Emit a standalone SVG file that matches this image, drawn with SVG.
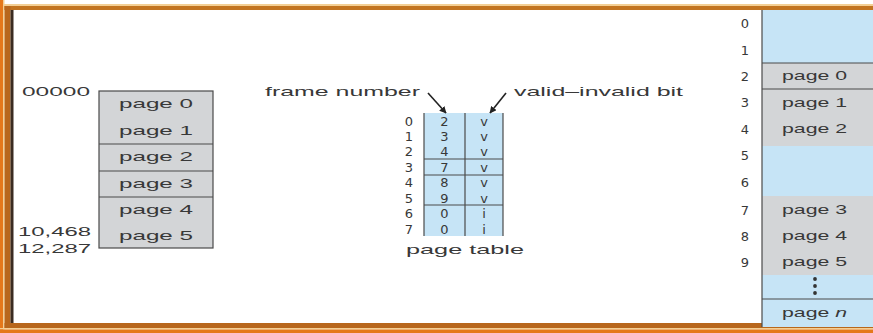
<svg xmlns="http://www.w3.org/2000/svg" width="873" height="333" viewBox="0 0 873 333">
<style>
text{font-family:"Liberation Sans",Arial,sans-serif;fill:#383838;}
.lbl{font-size:13px;text-anchor:middle;}
.num text{font-family:"DejaVu Sans",sans-serif;font-size:13px;text-anchor:middle;}
.addr{font-size:13px;}
.gray{fill:#d3d5d7;}
.blue{fill:#c6e4f6;}
.ln{stroke:#4a4a4a;stroke-width:1.2;fill:none;}
.arr{stroke:#222;stroke-width:1.6;fill:none;marker-end:url(#ah);}
</style>
<defs>
<marker id="ah" viewBox="0 0 10 10" refX="9" refY="5" markerWidth="7" markerHeight="7" orient="auto" markerUnits="userSpaceOnUse">
<path d="M0,0 L10,5 L0,10 z" fill="#222"/>
</marker>
</defs>
<rect x="0" y="0" width="873" height="333" fill="#fff"/>
<g id="frame">
<rect x="0" y="4" width="873" height="2" fill="#f3cf94"/>
<rect x="0" y="6" width="873" height="4" fill="#c27420"/>
<rect x="0" y="0" width="3" height="333" fill="#e5781a"/>
<rect x="3" y="0" width="1.5" height="333" fill="#f3cf94"/>
<rect x="4.5" y="6" width="6" height="323" fill="#b8671c"/>
<rect x="10.5" y="10" width="3" height="314" fill="#3b2c22"/>
<rect x="4.5" y="323" width="869" height="5" fill="#b8671c"/>
<rect x="0" y="328" width="873" height="1.5" fill="#f3cf94"/>
<rect x="0" y="329.5" width="873" height="3.5" fill="#e5781a"/>
</g>
<g id="logical-memory">
<rect class="gray" x="99" y="91" width="114" height="157"/>
<rect class="ln" x="99" y="91" width="114" height="157"/>
<line class="ln" x1="99" y1="144" x2="213" y2="144"/>
<line class="ln" x1="99" y1="171" x2="213" y2="171"/>
<line class="ln" x1="99" y1="197" x2="213" y2="197"/>
<text class="lbl" x="156" y="108" textLength="74" lengthAdjust="spacingAndGlyphs">page 0</text>
<text class="lbl" x="156" y="135" textLength="74" lengthAdjust="spacingAndGlyphs">page 1</text>
<text class="lbl" x="156" y="161" textLength="74" lengthAdjust="spacingAndGlyphs">page 2</text>
<text class="lbl" x="156" y="188" textLength="74" lengthAdjust="spacingAndGlyphs">page 3</text>
<text class="lbl" x="156" y="214" textLength="74" lengthAdjust="spacingAndGlyphs">page 4</text>
<text class="lbl" x="156" y="240" textLength="74" lengthAdjust="spacingAndGlyphs">page 5</text>
<text class="addr" x="22" y="96" textLength="68" lengthAdjust="spacingAndGlyphs">00000</text>
<text class="addr" x="18" y="236" textLength="73" lengthAdjust="spacingAndGlyphs">10,468</text>
<text class="addr" x="18" y="253" textLength="73" lengthAdjust="spacingAndGlyphs">12,287</text>
</g>
<g id="page-table">
<rect class="blue" x="424" y="113" width="79" height="123"/>
<line class="ln" x1="424" y1="113" x2="424" y2="236"/>
<line class="ln" x1="465" y1="113" x2="465" y2="236"/>
<line class="ln" x1="503" y1="113" x2="503" y2="236"/>
<line class="ln" x1="424" y1="159" x2="503" y2="159"/>
<line class="ln" x1="424" y1="175" x2="503" y2="175"/>
<line class="ln" x1="424" y1="205" x2="503" y2="205"/>
<g class="num">
<text x="409" y="126">0</text><text x="444.5" y="126">2</text><text x="484" y="126">v</text>
<text x="409" y="141">1</text><text x="444.5" y="141">3</text><text x="484" y="141">v</text>
<text x="409" y="156">2</text><text x="444.5" y="156">4</text><text x="484" y="156">v</text>
<text x="409" y="172">3</text><text x="444.5" y="172">7</text><text x="484" y="172">v</text>
<text x="409" y="187">4</text><text x="444.5" y="187">8</text><text x="484" y="187">v</text>
<text x="409" y="203">5</text><text x="444.5" y="203">9</text><text x="484" y="203">v</text>
<text x="409" y="218">6</text><text x="444.5" y="218">0</text><text x="484" y="218">i</text>
<text x="409" y="234">7</text><text x="444.5" y="234">0</text><text x="484" y="234">i</text>
</g>
<text class="addr" x="406" y="254" textLength="118" lengthAdjust="spacingAndGlyphs">page table</text>
<text class="addr" x="265" y="96" textLength="155" lengthAdjust="spacingAndGlyphs">frame number</text>
<text class="addr" x="514" y="96" textLength="169" lengthAdjust="spacingAndGlyphs">valid–invalid bit</text>
</g>
<g id="connectors">
<line class="arr" x1="428" y1="93" x2="446" y2="113"/>
<line class="arr" x1="506" y1="93" x2="490" y2="113"/>
</g>
<g id="physical-memory">
<rect class="blue" x="762" y="10" width="111" height="317"/>
<rect class="gray" x="762" y="63" width="111" height="83"/>
<rect class="gray" x="762" y="196" width="111" height="79"/>
<line class="ln" x1="762" y1="10" x2="762" y2="327"/>
<line class="ln" x1="762" y1="63" x2="873" y2="63"/>
<line class="ln" x1="762" y1="89" x2="873" y2="89"/>
<line class="ln" x1="762" y1="299" x2="873" y2="299"/>
<g class="num">
<text x="745" y="28">0</text>
<text x="745" y="55">1</text>
<text x="745" y="81">2</text>
<text x="745" y="107">3</text>
<text x="745" y="134">4</text>
<text x="745" y="160">5</text>
<text x="745" y="187">6</text>
<text x="745" y="215">7</text>
<text x="745" y="241">8</text>
<text x="745" y="267">9</text>
</g>
<text class="lbl" x="814.5" y="80" textLength="65" lengthAdjust="spacingAndGlyphs">page 0</text>
<text class="lbl" x="814.5" y="107" textLength="65" lengthAdjust="spacingAndGlyphs">page 1</text>
<text class="lbl" x="814.5" y="133" textLength="65" lengthAdjust="spacingAndGlyphs">page 2</text>
<text class="lbl" x="814.5" y="214" textLength="65" lengthAdjust="spacingAndGlyphs">page 3</text>
<text class="lbl" x="814.5" y="240" textLength="65" lengthAdjust="spacingAndGlyphs">page 4</text>
<text class="lbl" x="814.5" y="266" textLength="65" lengthAdjust="spacingAndGlyphs">page 5</text>
<circle cx="815" cy="279" r="1.9" fill="#333"/>
<circle cx="815" cy="286" r="1.9" fill="#333"/>
<circle cx="815" cy="293" r="1.9" fill="#333"/>
<text class="lbl" x="814.5" y="317" textLength="65" lengthAdjust="spacingAndGlyphs">page <tspan font-style="italic">n</tspan></text>
</g>
</svg>
